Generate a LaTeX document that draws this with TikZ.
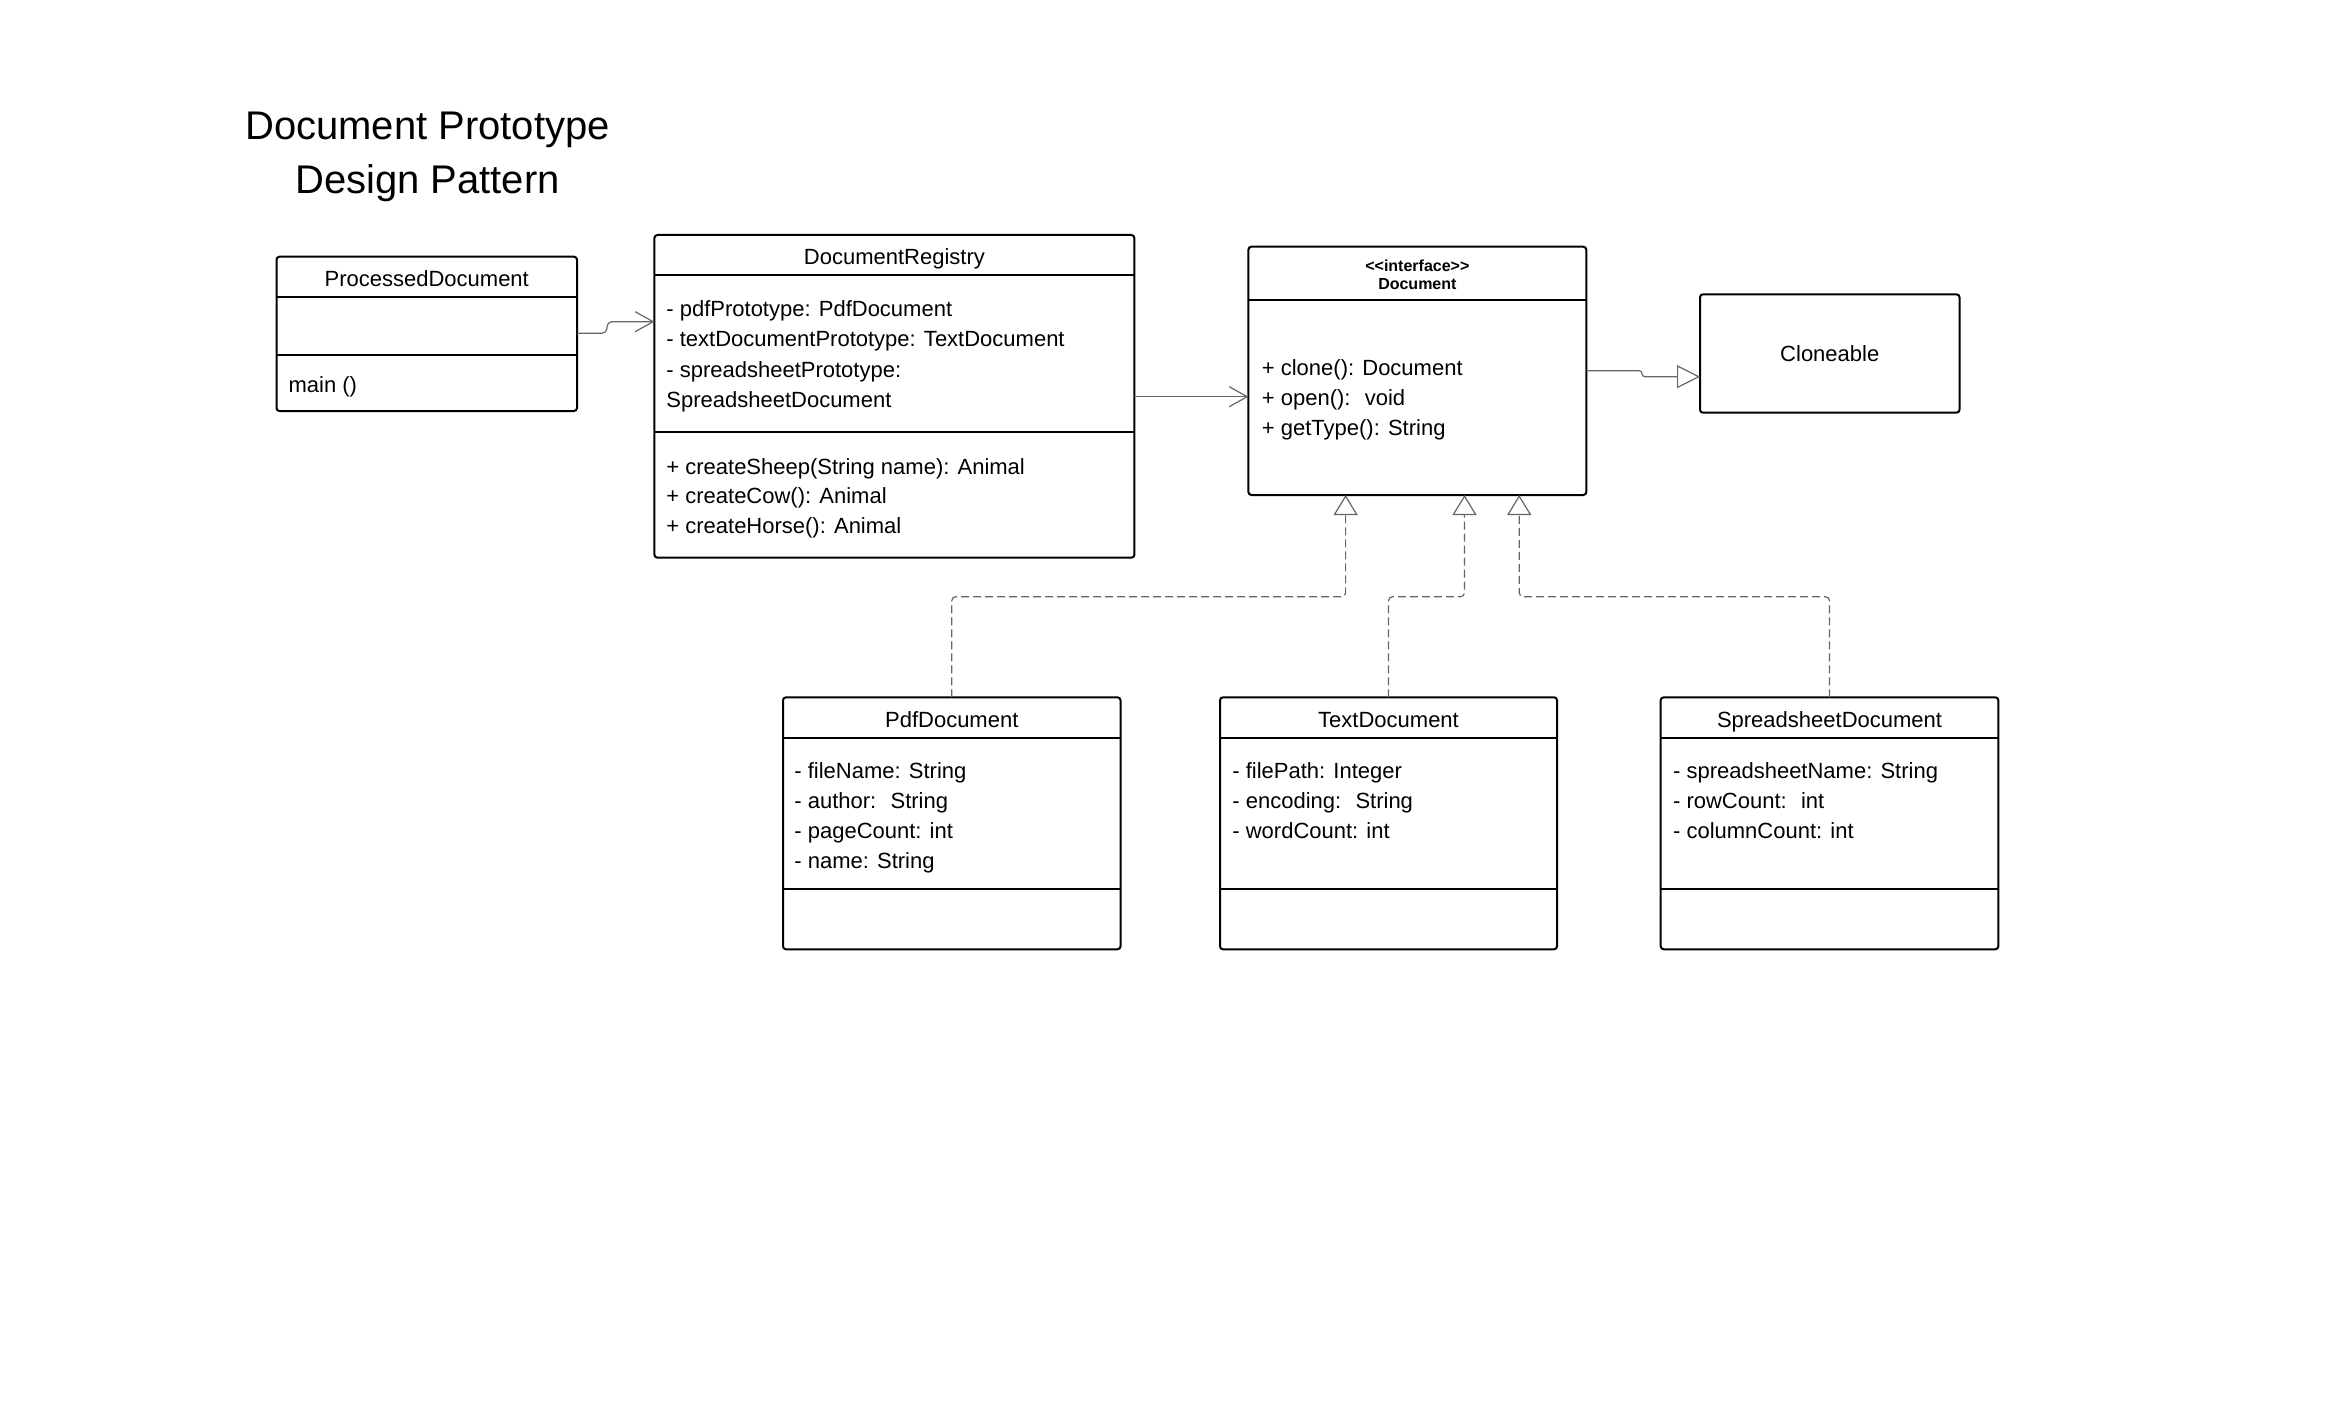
\documentclass[tikz,border=0pt]{standalone}
\usepackage{fontspec}
\setmainfont{Liberation Sans}
\usetikzlibrary{arrows.meta,fit}

\definecolor{linegray}{HTML}{666666}

\tikzset{
  classbox/.style={draw=black, line width=1pt, rounded corners=1.5pt, inner sep=0pt, outer sep=0pt},
  divider/.style={draw=black, line width=1pt},
  body/.style={inner sep=0pt, font=\fontsize{11}{13}\selectfont, text height=0.72em, text depth=0.21em, yshift=-1.5pt},
  attr/.style={body, anchor=west},
  cname/.style={body},
  stereo/.style={inner sep=0pt, font=\fontsize{8}{9.5}\selectfont\bfseries, align=center, yshift=-0.5pt},
  heading/.style={inner sep=0pt, align=center, font=\fontsize{20}{27}\selectfont, yshift=-2.2pt},
  assoc/.style={draw=linegray, line width=0.6pt, rounded corners=2.5pt,
    -{Straight Barb[length=9pt,width=10pt]}},
  realize/.style={draw=linegray, line width=0.6pt, rounded corners=2pt,
    dash pattern=on 4pt off 2pt,
    -{Triangle[open,length=10pt,width=12pt,fill=white]}},
  inherit/.style={draw=linegray, line width=0.6pt, rounded corners=1.5pt,
    -{Triangle[open,length=11.5pt,width=11.5pt,fill=white]}}
}

\begin{document}
\begin{tikzpicture}[x=0.5pt,y=-0.5pt]
% canvas
\path[use as bounding box, fill=white] (0,0) rectangle (2344,1407);

% heading
\node[heading] (ttl) at (427.5,152.5) {Document Prototype\\Design Pattern};

% ---------- ProcessedDocument ----------
\node[classbox, fit={(276.5,256.7) (577,411)}] (pd) {};
\draw[divider] (pd.west |- 0,297.3) -- (pd.east |- 0,297.3);
\draw[divider] (pd.west |- 0,355) -- (pd.east |- 0,355);
\node[cname] (pd-t) at (426.75,278) {ProcessedDocument};
\node[attr] (pd-m1) at (288.2,384) {main ()};

% ---------- DocumentRegistry ----------
\node[classbox, fit={(654.4,235) (1134.4,557.7)}] (reg) {};
\draw[divider] (reg.west |- 0,275.3) -- (reg.east |- 0,275.3);
\draw[divider] (reg.west |- 0,431.7) -- (reg.east |- 0,431.7);
\node[cname] (reg-t) at (894.4,256) {DocumentRegistry};
\node[attr] (reg-a1) at (666,308.3) {- pdfPrototype: PdfDocument};
\node[attr] (reg-a2) at (666,338.3) {- textDocumentPrototype: TextDocument};
\node[attr] (reg-a3) at (666,369.3) {- spreadsheetPrototype:};
\node[attr] (reg-a4) at (666,399.3) {SpreadsheetDocument};
\node[attr] (reg-m1) at (666,466) {+ createSheep(String name): Animal};
\node[attr] (reg-m2) at (666,495.7) {+ createCow(): Animal};
\node[attr] (reg-m3) at (666,525) {+ createHorse(): Animal};

% ---------- Document (interface) ----------
\node[classbox, fit={(1248.4,246.7) (1586.3,495)}] (doc) {};
\draw[divider] (doc.west |- 0,300) -- (doc.east |- 0,300);
\node[stereo] (doc-s) at (1417.35,264.3) {<\kern0pt<interface>\kern0pt>};
\node[stereo] (doc-t) at (1417.35,283.3) {Document};
\node[attr] (doc-m1) at (1261.5,367.7) {+ clone(): Document};
\node[attr] (doc-m2) at (1261.5,397.2) {+ open():~ void};
\node[attr] (doc-m3) at (1261.5,427.8) {+ getType(): String};

% ---------- Cloneable ----------
\node[classbox, fit={(1700,294.3) (1959.5,412.7)}] (clo) {};
\node[cname] (clo-t) at (1829.75,353.5) {Cloneable};

% ---------- PdfDocument ----------
\node[classbox, fit={(783,697.3) (1120.5,949.3)}] (pdf) {};
\draw[divider] (pdf.west |- 0,737.7) -- (pdf.east |- 0,737.7);
\draw[divider] (pdf.west |- 0,889.3) -- (pdf.east |- 0,889.3);
\node[cname] (pdf-t) at (951.75,719.3) {PdfDocument};
\node[attr] (pdf-a1) at (794,770) {- fileName: String};
\node[attr] (pdf-a2) at (794,800) {- author:~ String};
\node[attr] (pdf-a3) at (794,830) {- pageCount: int};
\node[attr] (pdf-a4) at (794,860.7) {- name: String};

% ---------- TextDocument ----------
\node[classbox, fit={(1220,697.3) (1557,949.3)}] (txt) {};
\draw[divider] (txt.west |- 0,737.7) -- (txt.east |- 0,737.7);
\draw[divider] (txt.west |- 0,889.3) -- (txt.east |- 0,889.3);
\node[cname] (txt-t) at (1388.5,719.3) {TextDocument};
\node[attr] (txt-a1) at (1232,770) {- filePath: Integer};
\node[attr] (txt-a2) at (1232,800) {- encoding:~ String};
\node[attr] (txt-a3) at (1232,830) {- wordCount: int};

% ---------- SpreadsheetDocument ----------
\node[classbox, fit={(1660.7,697.3) (1998.3,949.3)}] (ssd) {};
\draw[divider] (ssd.west |- 0,737.7) -- (ssd.east |- 0,737.7);
\draw[divider] (ssd.west |- 0,889.3) -- (ssd.east |- 0,889.3);
\node[cname] (ssd-t) at (1829.5,719.3) {SpreadsheetDocument};
\node[attr] (ssd-a1) at (1672.7,770) {- spreadsheetName: String};
\node[attr] (ssd-a2) at (1672.7,800) {- rowCount:~ int};
\node[attr] (ssd-a3) at (1672.7,830) {- columnCount: int};

% ---------- connectors ----------
\draw[assoc] (pd.east |- 0,333.3) -- (607,333.3) -- (607,321.7) -- (reg.west |- 0,321.7);
\draw[assoc] (reg.east |- 0,396.7) -- (doc.west |- 0,396.7);
\draw[inherit] (doc.east |- 0,370.7) -- (1642,370.7) -- (1642,376.7) -- (clo.west |- 0,376.7);

\draw[realize] (pdf.north) -- (pdf.north |- 0,596.7) -- (1345.6,596.7) -- (doc.south -| 1345.6,0);
\draw[realize] (txt.north) -- (txt.north |- 0,596.7) -- (1464.5,596.7) -- (doc.south -| 1464.5,0);
\draw[realize] (ssd.north) -- (ssd.north |- 0,596.7) -- (1519.2,596.7) -- (doc.south -| 1519.2,0);
\end{tikzpicture}
\end{document}
